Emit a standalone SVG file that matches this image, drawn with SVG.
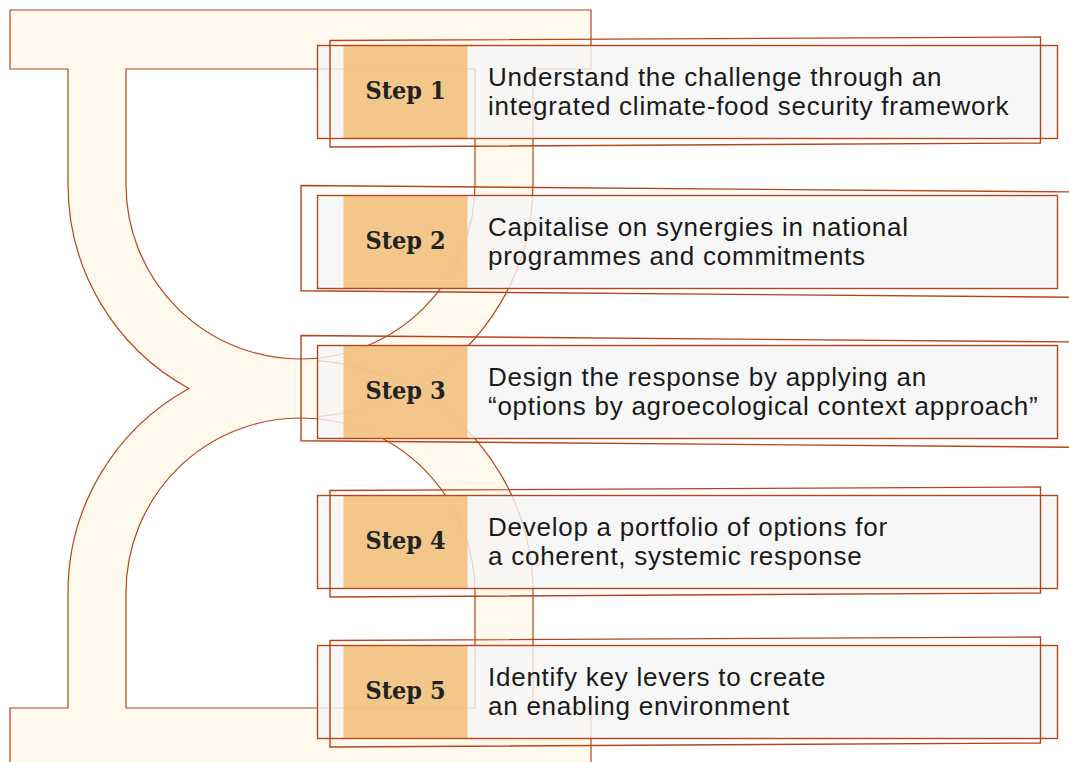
<svg xmlns="http://www.w3.org/2000/svg" width="1069" height="762" viewBox="0 0 1069 762">
<style>
.shape{fill:#fff9ee;stroke:#b5451b;stroke-width:1.2;fill-rule:evenodd}
.ghost{fill:none;stroke:#b5451b;stroke-width:1.2}
.bg{fill:#f5f5f5;fill-opacity:.8}
.tag{fill:#f2bd77;fill-opacity:.85}
.ol{fill:none;stroke:#b5451b;stroke-width:1.4}
.lbl{font-family:"DejaVu Serif Condensed","DejaVu Serif",serif;font-stretch:condensed;font-weight:bold;font-size:25px;fill:#222;text-anchor:middle}
.txt{font-family:"Liberation Sans",Arial,sans-serif;font-size:26px;letter-spacing:0.75px;fill:#1a1a1a}
</style>
<rect width="1069" height="762" fill="#ffffff"/>
<g id="frame">
<path class="shape" d="M10,10 H591 V69 H533 V184.5 A232.5,232.5 0 0 1 412,388.5 A232.5,232.5 0 0 1 533,592.5 V708 H591 V767 H10 V708 H68 V592.5 A232.5,232.5 0 0 1 189,388.5 A232.5,232.5 0 0 1 68,184.5 V69 H10 Z M126,69 H475 V184.5 A174.5,174.5 0 0 1 126,184.5 Z M126,708 V592.5 A174.5,174.5 0 0 1 475,592.5 V708 Z"/>
<path class="ghost" d="M412,388.5 A232.5,232.5 0 0 1 317.5,416.4 M412,388.5 A232.5,232.5 0 0 0 317.5,360.6"/>
</g>
<g id="connectors"></g>
<g id="step1">
<rect class="bg" x="317.5" y="45.5" width="740" height="93"/>
<rect class="tag" x="343.5" y="45.5" width="124" height="93"/>
<rect class="ol" x="317.5" y="45.5" width="740" height="93"/>
<polygon class="ol" points="330,40.5 1040.5,37 1040.5,143 330,147"/>
<text class="lbl" x="405.5" y="99">Step 1</text>
<text class="txt" x="488" y="85.5">Understand the challenge through an</text>
<text class="txt" x="488" y="115">integrated climate-food security framework</text>
</g>
<g id="step2">
<rect class="bg" x="317.5" y="195.5" width="740" height="93"/>
<rect class="tag" x="343.5" y="195.5" width="124" height="93"/>
<rect class="ol" x="317.5" y="195.5" width="740" height="93"/>
<polygon class="ol" points="301,185.5 1080,192 1080,297.3 301,290.8"/>
<text class="lbl" x="405.5" y="249">Step 2</text>
<text class="txt" x="488" y="235.5">Capitalise on synergies in national</text>
<text class="txt" x="488" y="265">programmes and commitments</text>
</g>
<g id="step3">
<rect class="bg" x="317.5" y="345.5" width="740" height="93"/>
<rect class="tag" x="343.5" y="345.5" width="124" height="93"/>
<rect class="ol" x="317.5" y="345.5" width="740" height="93"/>
<polygon class="ol" points="301,335.5 1080,342 1080,447.3 301,440.8"/>
<text class="lbl" x="405.5" y="399">Step 3</text>
<text class="txt" x="488" y="385.5">Design the response by applying an</text>
<text class="txt" x="488" y="415">“options by agroecological context approach”</text>
</g>
<g id="step4">
<rect class="bg" x="317.5" y="495.5" width="740" height="93"/>
<rect class="tag" x="343.5" y="495.5" width="124" height="93"/>
<rect class="ol" x="317.5" y="495.5" width="740" height="93"/>
<polygon class="ol" points="330,490.5 1040.5,487 1040.5,593 330,597"/>
<text class="lbl" x="405.5" y="549">Step 4</text>
<text class="txt" x="488" y="535.5">Develop a portfolio of options for</text>
<text class="txt" x="488" y="565">a coherent, systemic response</text>
</g>
<g id="step5">
<rect class="bg" x="317.5" y="645.5" width="740" height="93"/>
<rect class="tag" x="343.5" y="645.5" width="124" height="93"/>
<rect class="ol" x="317.5" y="645.5" width="740" height="93"/>
<polygon class="ol" points="330,640.5 1040.5,637 1040.5,743 330,747"/>
<text class="lbl" x="405.5" y="699">Step 5</text>
<text class="txt" x="488" y="685.5">Identify key levers to create</text>
<text class="txt" x="488" y="715">an enabling environment</text>
</g>
</svg>
